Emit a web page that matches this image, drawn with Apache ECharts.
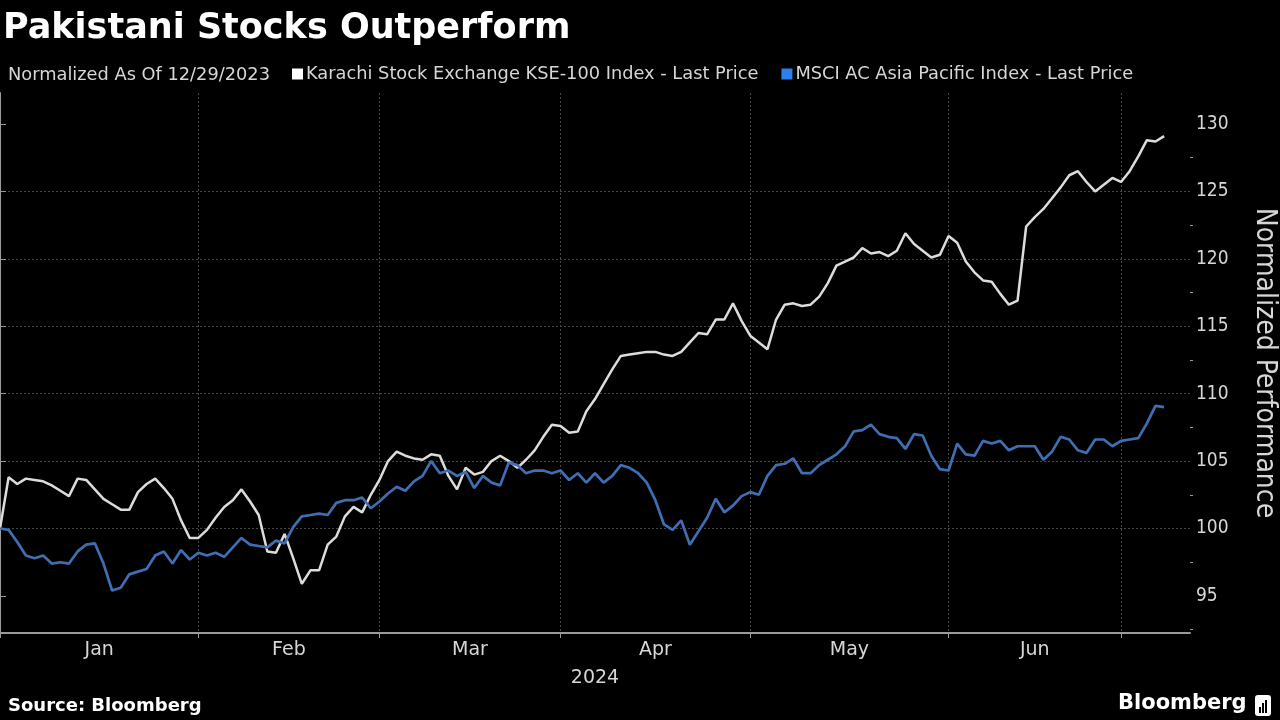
<!DOCTYPE html>
<html>
<head>
<meta charset="utf-8">
<script src="https://cdn.jsdelivr.net/npm/echarts@6/dist/echarts.min.js"></script>
<style>
html,body{margin:0;padding:0;background:#000;}
#chart{width:1280px;height:720px;}
</style>
</head>
<body>
<div id="chart"></div>
<script>
// ---- DATA ----
const titleText = 'Pakistani Stocks Outperform';
const noteText = 'Normalized As Of 12/29/2023';
const seriesNames = ['Karachi Stock Exchange KSE-100 Index - Last Price', 'MSCI AC Asia Pacific Index - Last Price'];
const monthLabels = ['Jan', 'Feb', 'Mar', 'Apr', 'May', 'Jun'];
const yearLabel = '2024';
const yTickValues = [95, 100, 105, 110, 115, 120, 125, 130];
const yMinorTickValues = [92.5, 97.5, 102.5, 107.5, 112.5, 117.5, 122.5, 127.5];
const yMin = 92.25, yMax = 132.3;

// weekday trading calendar, 2024-01-01 .. 2024-07-11
const categories = [];
(function () {
  const d = new Date(Date.UTC(2024, 0, 1));
  const end = new Date(Date.UTC(2024, 6, 11));
  while (d <= end) {
    const wd = d.getUTCDay();
    if (wd !== 0 && wd !== 6) categories.push(d.toISOString().slice(0, 10));
    d.setUTCDate(d.getUTCDate() + 1);
  }
})();

const kse100 = [
  100.0, 103.8, 103.3, 103.7, 103.6, 103.5, 103.2, 102.8, 102.4, 103.7,
  103.6, 102.9, 102.2, 101.8, 101.4, 101.4, 102.7, 103.3, 103.7, 103.0,
  102.2, 100.6, 99.3, 99.3, 99.9, 100.8, 101.6, 102.1, 102.9, 102.0,
  101.0, 98.3, 98.2, 99.6, 97.8, 95.9, 96.9, 96.9, 98.8, 99.4,
  100.9, 101.6, 101.2, 102.5, 103.6, 105.0, 105.7, 105.4, 105.2, 105.1,
  105.5, 105.4, 103.9, 102.9, 104.5, 104.0, 104.2, 105.0, 105.4, 105.0,
  104.5, 105.1, 105.8, 106.8, 107.7, 107.6, 107.1, 107.2, 108.7, 109.6,
  110.7, 111.8, 112.8, 112.9, 113.0, 113.1, 113.1, 112.9, 112.8, 113.1,
  113.8, 114.5, 114.4, 115.5, 115.5, 116.7, 115.4, 114.3, 113.8, 113.3,
  115.5, 116.6, 116.7, 116.5, 116.6, 117.2, 118.2, 119.5, 119.8, 120.1,
  120.8, 120.4, 120.5, 120.2, 120.6, 121.9, 121.1, 120.6, 120.1, 120.3,
  121.7, 121.2, 119.8, 119.0, 118.4, 118.3, 117.4, 116.6, 116.9, 122.4,
  123.1, 123.7, 124.5, 125.3, 126.2, 126.5, 125.7, 125.0, 125.5, 126.0,
  125.7, 126.5, 127.6, 128.8, 128.7, 129.1
];
const msciAp = [
  100.0, 99.9, 99.0, 98.0, 97.8, 98.0, 97.4, 97.5, 97.4, 98.3,
  98.8, 98.9, 97.4, 95.4, 95.6, 96.6, 96.8, 97.0, 98.0, 98.3,
  97.4, 98.4, 97.7, 98.2, 98.0, 98.2, 97.9, 98.6, 99.3, 98.8,
  98.7, 98.6, 99.1, 98.9, 100.1, 100.9, 101.0, 101.1, 101.0, 101.9,
  102.1, 102.1, 102.3, 101.5, 102.0, 102.6, 103.1, 102.8, 103.5, 103.9,
  105.0, 104.1, 104.3, 103.9, 104.2, 103.0, 103.9, 103.4, 103.2, 104.9,
  104.7, 104.1, 104.3, 104.3, 104.1, 104.3, 103.6, 104.1, 103.4, 104.1,
  103.4, 103.9, 104.7, 104.5, 104.1, 103.4, 102.1, 100.3, 99.9, 100.6,
  98.8, 99.8, 100.8, 102.2, 101.2, 101.7, 102.4, 102.7, 102.5, 103.9,
  104.7, 104.8, 105.2, 104.1, 104.1, 104.7, 105.1, 105.5, 106.1, 107.2,
  107.3, 107.7, 107.0, 106.8, 106.7, 105.9, 107.0, 106.9, 105.4, 104.4,
  104.3, 106.3, 105.5, 105.4, 106.5, 106.3, 106.5, 105.8, 106.1, 106.1,
  106.1, 105.1, 105.7, 106.8, 106.6, 105.8, 105.6, 106.6, 106.6, 106.1,
  106.5, 106.6, 106.7, 107.8, 109.1, 109.0
];

// ---- derived helpers ----
function isMonthStart(i) {
  return i === 0 || categories[i].slice(5, 7) !== categories[i - 1].slice(5, 7);
}
const monthStarts = [];
categories.forEach((c, i) => { if (isMonthStart(i)) monthStarts.push(i); });
const monthMids = monthLabels.map((m, k) => (monthStarts[k] + monthStarts[k + 1]) / 2);

const FONT = '"DejaVu Sans", sans-serif';
const FONT_COND = '"DejaVu Sans Condensed", "DejaVu Sans", sans-serif';
const gridColor = '#474747';
const axisColor = '#9a9a9a';
const textColor = '#d6d6d6';

const chart = echarts.init(document.getElementById('chart'), null, { renderer: 'canvas' });
chart.setOption({
  backgroundColor: '#000',
  animation: false,
  title: [
    { text: titleText, left: 3, top: 11, padding: 0,
      textStyle: { color: '#fff', fontSize: 35, fontWeight: 'bold', fontFamily: FONT } },
    { text: noteText, left: 8, top: 66, padding: 0,
      textStyle: { color: textColor, fontSize: 17.8, fontWeight: 'normal', fontFamily: FONT } }
  ],
  legend: {
    left: 292, top: 65, padding: 0, itemWidth: 11, itemHeight: 11, itemGap: 23,
    icon: 'rect',
    textStyle: { color: textColor, fontSize: 17.8, fontFamily: FONT, padding: [0, 0, 0, -2] },
    data: [
      { name: seriesNames[0], itemStyle: { color: '#ffffff' } },
      { name: seriesNames[1], itemStyle: { color: '#2f7fe8' } }
    ]
  },
  grid: { left: 0, right: 90, top: 93, bottom: 87, containLabel: false, outerBoundsMode: 'none' },
  xAxis: [
    {
      type: 'category', data: categories, boundaryGap: false,
      axisLine: { show: true, lineStyle: { color: axisColor, width: 2 } },
      axisTick: { show: true, length: 5, interval: (i) => isMonthStart(i), lineStyle: { color: axisColor } },
      axisLabel: { show: false },
      splitLine: { show: true, interval: (i) => isMonthStart(i), lineStyle: { color: gridColor, type: [2, 2], width: 1 } }
    },
    {
      type: 'value', min: 0, max: categories.length - 1, position: 'bottom',
      axisLine: { show: false }, axisTick: { show: false }, splitLine: { show: false },
      axisLabel: {
        show: true, customValues: monthMids, margin: 8,
        color: textColor, fontSize: 19, fontFamily: FONT,
        formatter: (v) => { const k = monthMids.indexOf(v); return k >= 0 ? monthLabels[k] : ''; }
      },
      name: yearLabel, nameLocation: 'middle', nameGap: 36,
      nameTextStyle: { color: textColor, fontSize: 19, fontFamily: FONT }
    }
  ],
  yAxis: [
    {
      type: 'value', position: 'right', min: yMin, max: yMax,
      axisLine: { show: true, lineStyle: { color: axisColor, width: 2 } },
      axisTick: { show: true, length: 6, customValues: yTickValues, lineStyle: { color: axisColor } },
      axisLabel: { show: true, customValues: yTickValues, margin: 6, color: textColor, fontSize: 19, fontFamily: FONT_COND },
      splitLine: { show: true, showMinLine: false, showMaxLine: false, lineStyle: { color: gridColor, type: [2, 2], width: 1 } },
      name: 'Normalized Performance', nameLocation: 'middle', nameRotate: -90, nameGap: 60,
      nameTextStyle: { color: textColor, fontSize: 28, fontFamily: FONT_COND }
    },
    {
      type: 'value', position: 'right', min: yMin, max: yMax,
      axisLine: { show: false },
      axisTick: { show: true, length: 3, customValues: yMinorTickValues, lineStyle: { color: axisColor } },
      axisLabel: { show: false }, splitLine: { show: false }
    }
  ],
  series: [
    { name: seriesNames[0], type: 'line', data: kse100, showSymbol: false, symbol: 'none',
      lineStyle: { color: '#dcdcdc', width: 2.5 }, itemStyle: { color: '#dcdcdc' } },
    { name: seriesNames[1], type: 'line', data: msciAp, showSymbol: false, symbol: 'none',
      lineStyle: { color: '#3f6fb2', width: 2.7 }, itemStyle: { color: '#3f6fb2' } }
  ],
  graphic: [
    { type: 'text', left: 8, top: 697,
      style: { text: 'Source: Bloomberg', fill: '#fff', font: 'bold 18px "DejaVu Sans", sans-serif' } },
    { type: 'text', left: 1118, top: 693,
      style: { text: 'Bloomberg', fill: '#fff', font: 'bold 21px "DejaVu Sans", sans-serif' } },
    { type: 'group', left: 1255, top: 695, children: [
      { type: 'rect', shape: { x: 0, y: 0, width: 16, height: 21, r: 3 }, style: { fill: '#fff' } },
      { type: 'rect', shape: { x: 4, y: 12, width: 2, height: 6 }, style: { fill: '#000' } },
      { type: 'rect', shape: { x: 7, y: 8, width: 2, height: 10 }, style: { fill: '#000' } },
      { type: 'rect', shape: { x: 10, y: 5, width: 2, height: 13 }, style: { fill: '#000' } }
    ] }
  ]
});
</script>
</body>
</html>
